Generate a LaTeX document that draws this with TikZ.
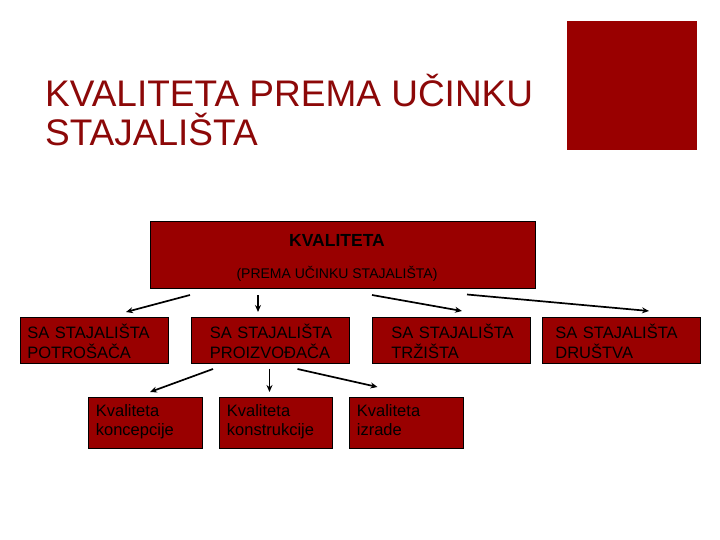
\documentclass[tikz,border=0pt]{standalone}
\usepackage{fontspec}
\setmainfont{Liberation Sans}
\usepackage{tikz}
\usetikzlibrary{arrows.meta,positioning}
\definecolor{boxred}{RGB}{153,0,0}
\definecolor{titlered}{RGB}{140,8,8}

\begin{document}
\begin{tikzpicture}[x=1pt,y=-1pt,>={Stealth[length=7pt,width=6pt]},
    okvir/.style={draw=black,line width=0.8pt,fill=boxred,rectangle,anchor=north west,inner sep=0pt},
    razina/.style={okvir,minimum width=148,minimum height=46,text width=134,inner xsep=7,align=left,
      font=\fontsize{16.5}{20}\selectfont,
      execute at begin node={\rule{0pt}{18pt}},execute at end node={\rule[-2pt]{0pt}{2pt}}},
    vrsta/.style={okvir,minimum width=114,minimum height=51,text width=98,inner xsep=8,align=left,
      font=\fontsize{16.5}{19}\selectfont,
      execute at begin node={\rule{0pt}{14pt}},execute at end node={\rule[-8pt]{0pt}{8pt}}},
    strelica/.style={->,line width=1.7pt}]
  \useasboundingbox (0,0) rectangle (720,540);
  % naslov
  \node[anchor=base west,inner sep=0pt,text=titlered,font=\fontsize{37}{39}\selectfont] (naslov1) at (45,107) {KVALITETA PREMA UČINKU};
  \node[anchor=base west,inner sep=0pt,text=titlered,font=\fontsize{37}{39}\selectfont] (naslov2) at (45,146) {STAJALIŠTA};
  \fill[boxred] (567,21) rectangle (697,150);
  % glavni okvir
  \node[okvir,minimum width=385,minimum height=67] (kval) at (150,221) {};
  \node[anchor=base,inner sep=0pt,font=\fontsize{17.5}{18}\bfseries] (kvalnaslov) at (337,247) {KVALITETA};
  \node[anchor=base,inner sep=0pt,font=\fontsize{14}{15}\selectfont] (kvalpod) at (337,278) {(PREMA UČINKU STAJALIŠTA)};
  % stajalista
  \node[razina] (potrosac) at (20,317) {\mbox{SA STAJALIŠTA}\\\mbox{POTROŠAČA}};
  \node[razina,minimum width=158,text width=120,inner xsep=19] (proizvodac) at (190.5,317) {\mbox{SA STAJALIŠTA}\\\mbox{PROIZVOĐAČA}};
  \node[razina,minimum width=158,text width=120,inner xsep=19] (trziste) at (372,317) {\mbox{SA STAJALIŠTA}\\\mbox{TRŽIŠTA}};
  \node[razina,minimum width=158,text width=132,inner xsep=13] (drustvo) at (542,317) {\mbox{SA STAJALIŠTA}\\\mbox{DRUŠTVA}};
  % kvalitete
  \node[vrsta] (koncepcija) at (87.5,397) {Kvaliteta\\koncepcije};
  \node[vrsta,minimum width=113,text width=97] (konstrukcija) at (218.5,397) {Kvaliteta\\\mbox{konstrukcije}};
  \node[vrsta] (izrada) at (348.5,397) {Kvaliteta\\izrade};
  % strelice
  \coordinate (p1) at (190,295);
  \coordinate (k1) at (126,312);
  \coordinate (p2) at (258,295);
  \coordinate (k2) at (258,312);
  \coordinate (p3) at (372,295);
  \coordinate (k3) at (462,311);
  \coordinate (p4) at (467,294.5);
  \coordinate (k4) at (649,311);
  \draw[strelica] (p1)--(k1);
  \draw[strelica] (p2)--(k2);
  \draw[strelica] (p3)--(k3);
  \draw[strelica] (p4)--(k4);
  \coordinate (q1) at (213,369);
  \coordinate (m1) at (150,392);
  \coordinate (q2) at (269.5,368.5);
  \coordinate (m2) at (269.5,392);
  \coordinate (q3) at (297.5,369);
  \coordinate (m3) at (377.5,387);
  \draw[strelica] (q1)--(m1);
  \draw[strelica] (q2)--(m2);
  \draw[strelica] (q3)--(m3);
\end{tikzpicture}
\end{document}
